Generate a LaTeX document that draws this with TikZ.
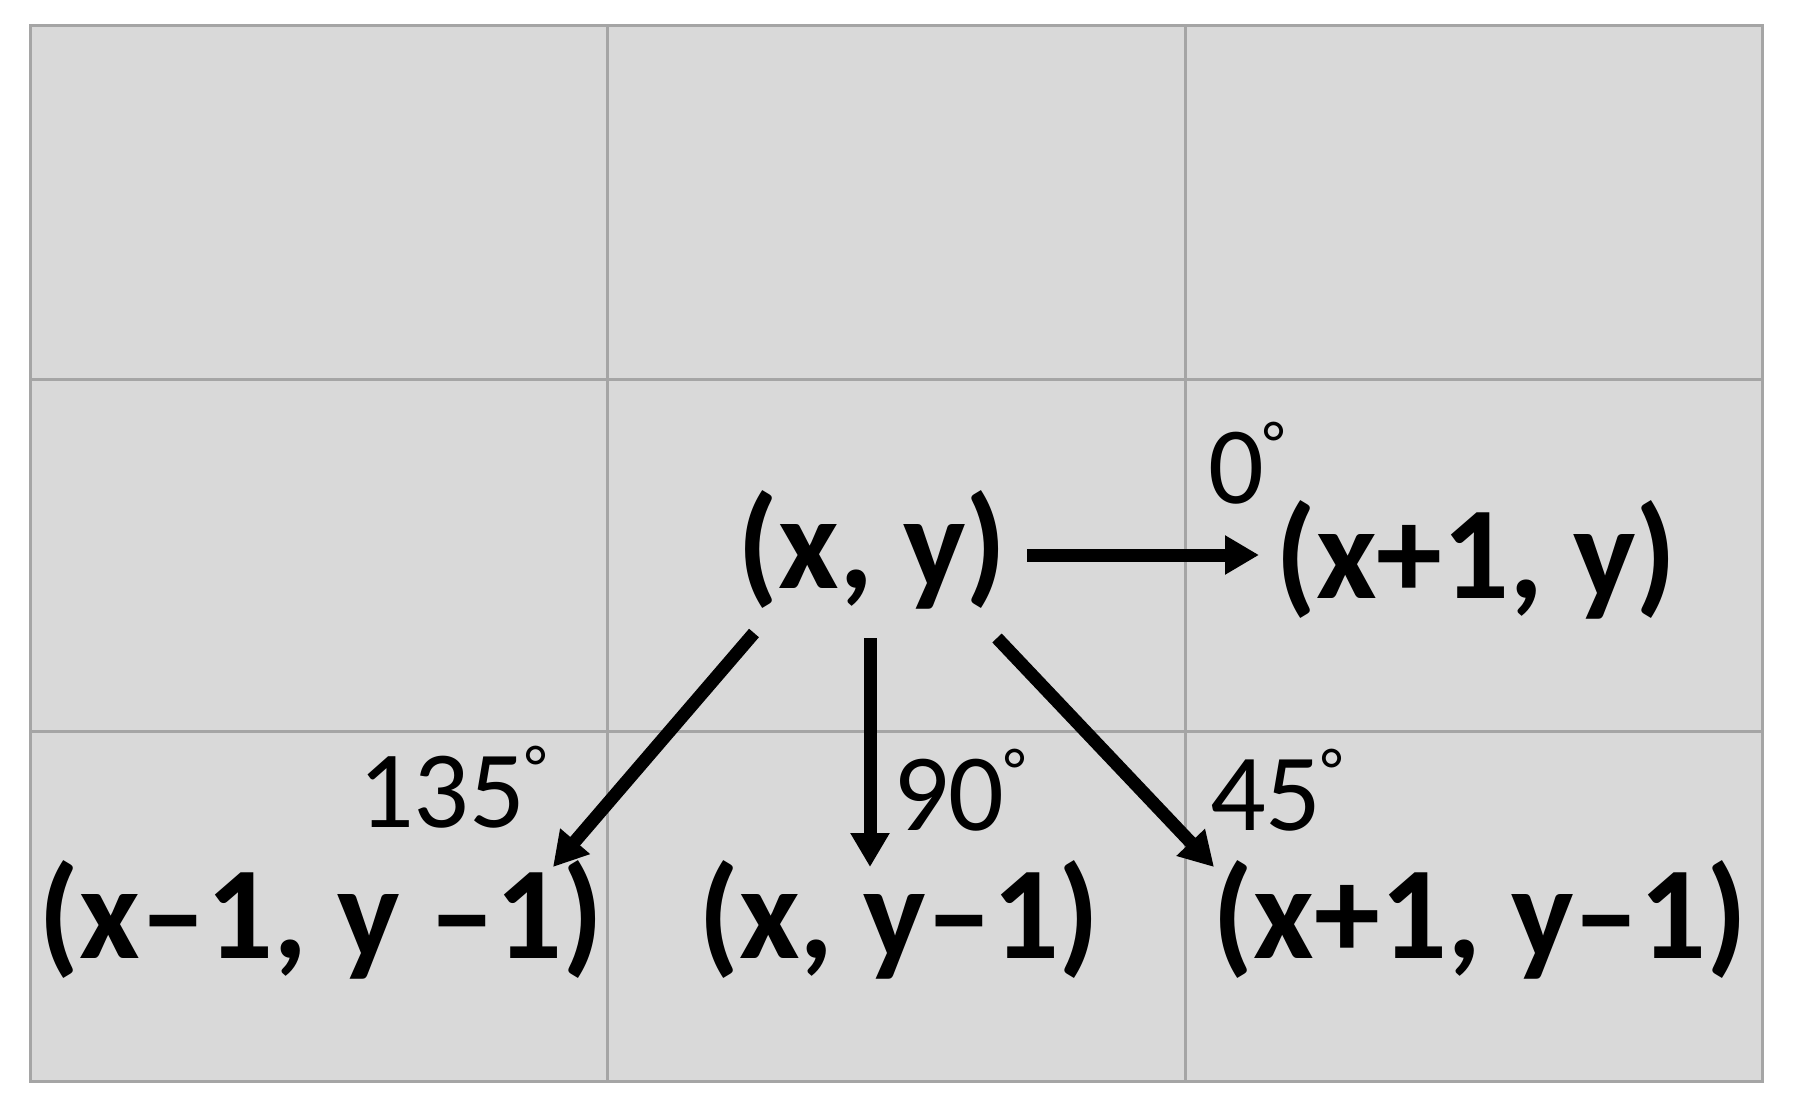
\documentclass[tikz,border=0pt]{standalone}
\usepackage{fontspec}
\setmainfont{Carlito}
\usetikzlibrary{arrows.meta}

\newcommand{\degmark}{{\fontsize{62}{62}\selectfont\raisebox{39pt}{°}}}

\tikzset{
  cellline/.style={color={rgb, 255:red, 165; green, 165; blue, 165 }, line width=3pt},
  pixel/.style={font=\bfseries\fontsize{132}{150}\selectfont, inner sep=0pt, anchor=base},
  anglelabel/.style={font=\fontsize{110}{120}\selectfont, inner sep=0pt, anchor=base west},
  move/.style={line width=13pt, -{Triangle[length=34pt,width=37pt]}}
}

\begin{document}
\begin{tikzpicture}[x=1pt,y=1pt,yscale=-1]
\useasboundingbox (0,0) rectangle (1794,1113);

%Shape: Grid
\draw  [draw opacity=0][fill={rgb, 255:red, 217; green, 217; blue, 217 }  ,fill opacity=1 ] (30,26) -- (1762,26) -- (1762,1081) -- (30,1081) -- cycle ;
\draw  [cellline] (607,26) -- (607,1081)(1185,26) -- (1185,1081) ;
\draw  [cellline] (30,379) -- (1762,379)(30,731) -- (1762,731) ;
\draw  [cellline] (30,26) -- (1762,26) -- (1762,1081) -- (30,1081) -- cycle ;

% Text Node
\node [pixel] (cur) at (872,588) {(x, y)};
% Text Node
\node [pixel] (right) at (1476,598) {(x+1, y)};
% Text Node
\node [pixel] (downleft) at (321,958) {(x–1, y –1)};
% Text Node
\node [pixel] (down) at (899,958) {(x, y–1)};
% Text Node
\node [pixel] (downright) at (1480,958) {(x+1, y–1)};

% Text Node
\node [anglelabel] (a0) at (1208,503) {0\degmark};
% Text Node
\node [anglelabel] (a135) at (358,827) {135\degmark};
% Text Node
\node [anglelabel] (a90) at (893,830) {90\degmark};
% Text Node
\node [anglelabel] (a45) at (1210,830) {45\degmark};

% Moves
\draw [move] ([xshift=155pt,yshift=-33pt]cur.base) -- ([xshift=-217pt,yshift=-43pt]right.base);
\draw [move] ([xshift=-2pt,yshift=50pt]cur.base) -- ([xshift=-29pt,yshift=-91pt]down.base);
\draw [move] ([xshift=-118pt,yshift=45pt]cur.base) -- ([xshift=232pt,yshift=-91pt]downleft.base);
\draw [move] ([xshift=125pt,yshift=50pt]cur.base) -- ([xshift=-266pt,yshift=-91pt]downright.base);
\end{tikzpicture}
\end{document}
